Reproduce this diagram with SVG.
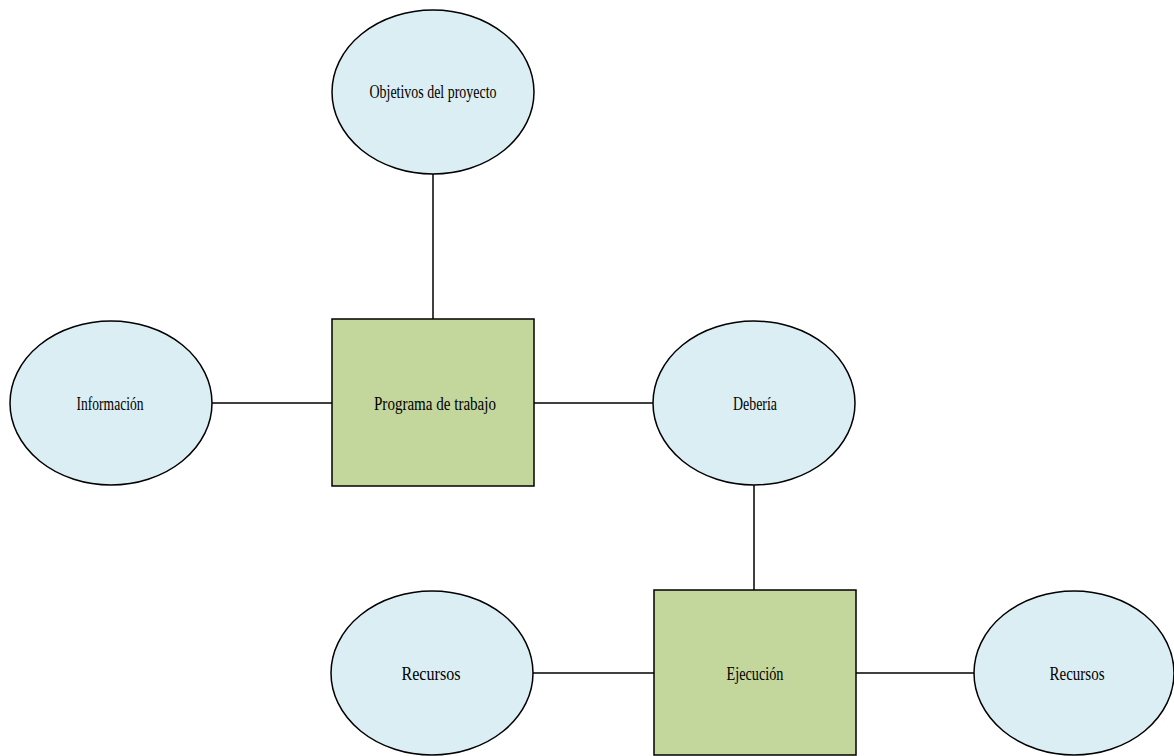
<svg xmlns="http://www.w3.org/2000/svg" width="1174" height="756" viewBox="0 0 1174 756">
<style>
.ell{fill:#daeef3;stroke:#000;stroke-width:1.5}
.box{fill:#c3d69b;stroke:#000;stroke-width:1.5}
.lbl{font-family:"Liberation Serif","Times New Roman",serif;font-size:18px;fill:#000;text-anchor:middle}
.con{stroke:#000;stroke-width:1.5;fill:none}
</style>
<rect width="1174" height="756" fill="#fff"/>
<g id="connectors">
<line class="con" x1="433" y1="174" x2="433" y2="319"/>
<line class="con" x1="212" y1="403" x2="332" y2="403"/>
<line class="con" x1="534" y1="403" x2="653" y2="403"/>
<line class="con" x1="754" y1="485" x2="754" y2="590"/>
<line class="con" x1="533" y1="673" x2="654" y2="673"/>
<line class="con" x1="856" y1="673" x2="974" y2="673"/>
</g>
<g id="objetivos">
<ellipse class="ell" cx="433" cy="92" rx="101" ry="82"/>
<text class="lbl" x="433" y="98" textLength="127" lengthAdjust="spacingAndGlyphs">Objetivos del proyecto</text>
</g>
<g id="informacion">
<ellipse class="ell" cx="111" cy="403" rx="101" ry="82"/>
<text class="lbl" x="110" y="410" textLength="67" lengthAdjust="spacingAndGlyphs">Información</text>
</g>
<g id="programa">
<rect class="box" x="332" y="319" width="202" height="167"/>
<text class="lbl" x="435" y="410" textLength="122" lengthAdjust="spacingAndGlyphs">Programa de trabajo</text>
</g>
<g id="deberia">
<ellipse class="ell" cx="754" cy="403" rx="101" ry="82"/>
<text class="lbl" x="755" y="410" textLength="44" lengthAdjust="spacingAndGlyphs">Debería</text>
</g>
<g id="ejecucion">
<rect class="box" x="654" y="590" width="202" height="165"/>
<text class="lbl" x="755" y="680" textLength="57" lengthAdjust="spacingAndGlyphs">Ejecución</text>
</g>
<g id="recursos1">
<ellipse class="ell" cx="432" cy="673" rx="101" ry="82"/>
<text class="lbl" x="431" y="680" textLength="59" lengthAdjust="spacingAndGlyphs">Recursos</text>
</g>
<g id="recursos2">
<ellipse class="ell" cx="1074" cy="673" rx="100" ry="82"/>
<text class="lbl" x="1077" y="680" textLength="55" lengthAdjust="spacingAndGlyphs">Recursos</text>
</g>
</svg>
